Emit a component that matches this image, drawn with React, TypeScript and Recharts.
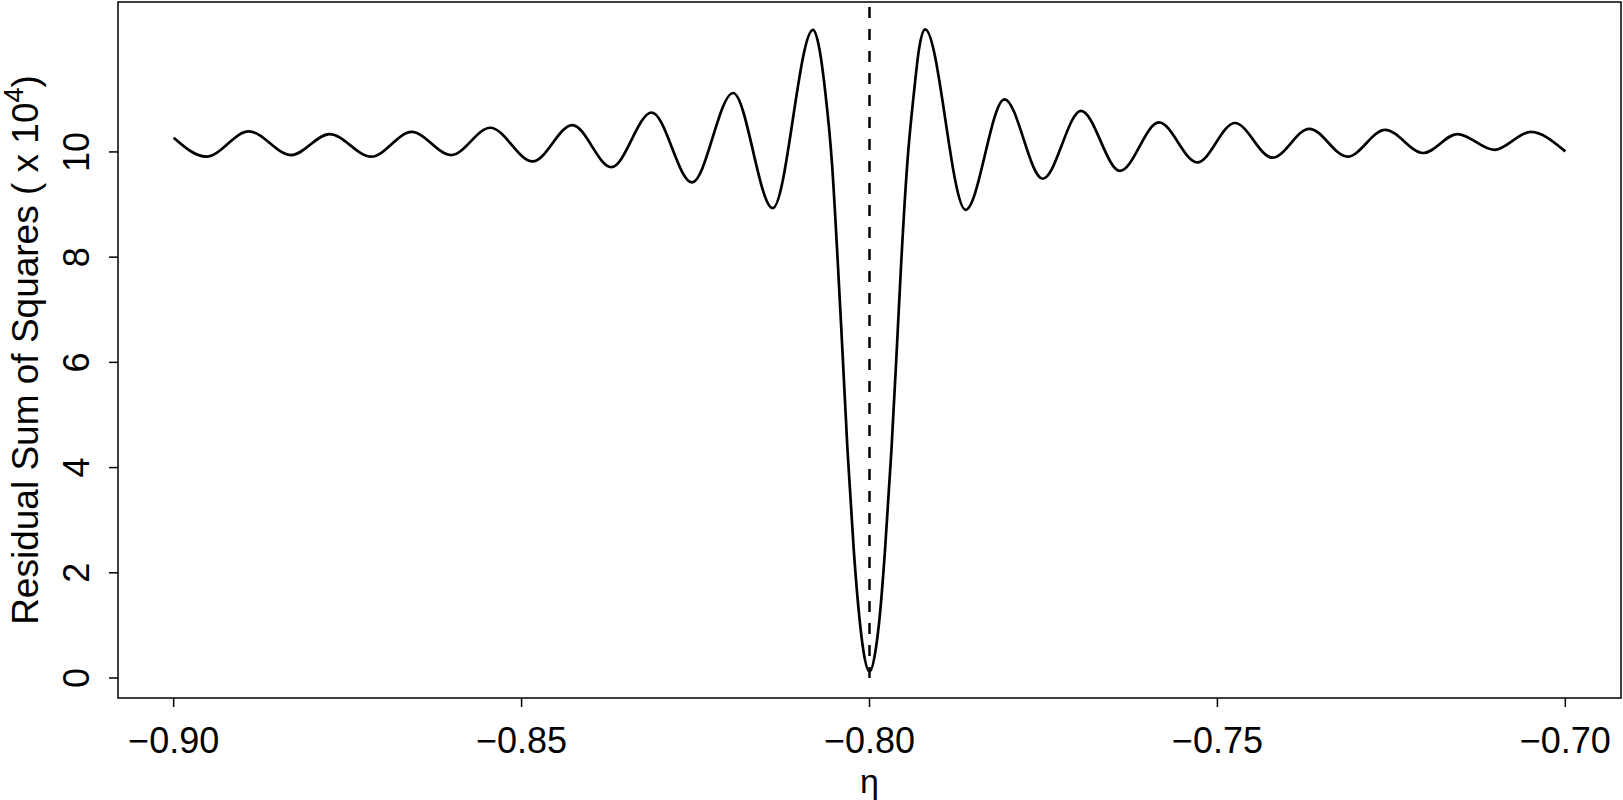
import { LineChart, Line, XAxis, YAxis, ReferenceLine, ReferenceArea, Label } from "recharts";

// values (RSS in units of 10^4)
const etaValues = [
  -0.9, -0.8953, -0.8892, -0.8831, -0.8776, -0.8716, -0.8658, -0.8601, -0.8545, -0.8484,
  -0.8427, -0.8371, -0.8313, -0.8255, -0.8196, -0.8139, -0.80812, -0.80726, -0.80639, -0.80539,
  -0.80455, -0.80392, -0.80316, -0.80226, -0.80147, -0.80089, -0.8, -0.79912, -0.79853, -0.79777,
  -0.79685, -0.79608, -0.79545, -0.79457, -0.79357, -0.79289, -0.792, -0.7862, -0.7806, -0.7751,
  -0.7696, -0.764, -0.7584, -0.7529, -0.7475, -0.7421, -0.7368, -0.7313, -0.7259, -0.7204,
  -0.7155, -0.7102, -0.705, -0.7,
];
const rssValues = [
  10.27, 9.91, 10.39, 9.94, 10.34, 9.91, 10.38, 9.94, 10.46, 9.82,
  10.51, 9.71, 10.75, 9.42, 11.12, 8.93, 12.32, 12.0, 11.18, 9.78,
  7.88, 6.3, 4.33, 2.43, 1.17, 0.53, 0.12, 0.53, 1.17, 2.43,
  4.33, 6.24, 7.88, 9.78, 11.18, 11.95, 12.33, 8.9, 11.0, 9.49,
  10.78, 9.64, 10.56, 9.8, 10.55, 9.89, 10.44, 9.91, 10.42, 9.98,
  10.34, 10.04, 10.38, 10.01,
];
const xTicks = [-0.9, -0.85, -0.8, -0.75, -0.7];
const yTicks = [0, 2, 4, 6, 8, 10];
const trueEta = -0.8;

const xDomain = [-0.908, -0.692];
const yDomain = [-0.38, 12.85];

const data = etaValues.map((eta, i) => ({ eta, rss: rssValues[i] }));

const FONT = "'Liberation Sans', Arial, Helvetica, sans-serif";
const FS = 36;

const fmt = (v: number) => v.toFixed(2).replace("-", "\u2212");

function XTick({ x, y, payload }: any) {
  return (
    <text x={x} y={y} dy={46} textAnchor="middle" fontSize={FS} fontFamily={FONT} fill="#000">
      {fmt(payload.value)}
    </text>
  );
}

function YTick({ x, y, payload }: any) {
  const bx = x - 20;
  return (
    <text
      x={bx}
      y={y}
      transform={`rotate(-90, ${bx}, ${y})`}
      textAnchor="middle"
      fontSize={FS}
      fontFamily={FONT}
      fill="#000"
    >
      {payload.value}
    </text>
  );
}

function YTitle({ viewBox }: any) {
  const cx = viewBox.x + 38;
  const cy = viewBox.y + viewBox.height / 2;
  return (
    <text
      x={cx}
      y={cy}
      transform={`rotate(-90, ${cx}, ${cy})`}
      textAnchor="middle"
      fontSize={37}
      fontFamily={FONT}
      fill="#000"
    >
      Residual Sum of Squares ( x 10
      <tspan dy={-15} fontSize={27}>4</tspan>
      <tspan dy={15}>)</tspan>
    </text>
  );
}

function XTitle({ viewBox }: any) {
  const cx = viewBox.x + viewBox.width / 2;
  return (
    <text x={cx} y={viewBox.y + 94.5} textAnchor="middle" fontSize={34} fontFamily={FONT} fill="#000">
      η
    </text>
  );
}

export default function App() {
  return (
    <div style={{ position: "absolute", left: 0, top: 0, width: 1623, height: 800, background: "#fff" }}>
      <LineChart width={1623} height={800} data={data} margin={{ top: 2, right: 2, bottom: 0, left: 0 }}>
        <XAxis
          dataKey="eta"
          type="number"
          domain={xDomain}
          ticks={xTicks}
          allowDataOverflow
          interval={0}
          height={102}
          axisLine={false}
          tickSize={9}
          tickMargin={0}
          tickLine={{ stroke: "#000", strokeWidth: 1.5 }}
          tick={<XTick />}
        >
          <Label content={<XTitle />} />
        </XAxis>
        <YAxis
          type="number"
          domain={yDomain}
          ticks={yTicks}
          allowDataOverflow
          interval={0}
          width={118}
          axisLine={false}
          tickSize={9}
          tickMargin={0}
          tickLine={{ stroke: "#000", strokeWidth: 1.5 }}
          tick={<YTick />}
        >
          <Label content={<YTitle />} />
        </YAxis>
        <ReferenceLine
          segment={[
            { x: trueEta, y: 0 },
            { x: trueEta, y: yDomain[1] },
          ]}
          stroke="#000"
          strokeWidth={2.5}
          strokeDasharray="11 11"
        />
        <Line
          type="monotone"
          dataKey="rss"
          stroke="#000"
          strokeWidth={2.7}
          dot={false}
          activeDot={false}
          isAnimationActive={false}
        />
        <ReferenceArea
          x1={xDomain[0]}
          x2={xDomain[1]}
          y1={yDomain[0]}
          y2={yDomain[1]}
          fill="none"
          fillOpacity={0}
          stroke="#000"
          strokeWidth={1.5}
        />
      </LineChart>
    </div>
  );
}
